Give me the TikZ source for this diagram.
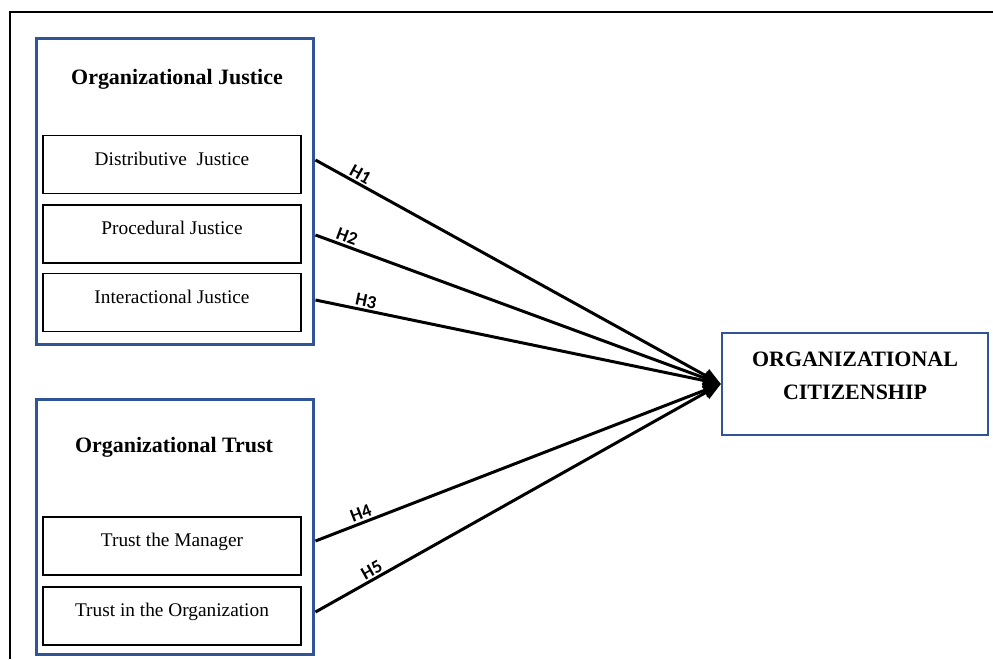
\documentclass[tikz,border=0pt]{standalone}
\usepackage{fontspec}
\setmainfont{Liberation Serif}
\newfontfamily\hfont{Carlito}
\usetikzlibrary{arrows.meta}
\definecolor{wordblue}{RGB}{47,85,151}

\begin{document}
\begin{tikzpicture}[x=0.02cm, y=-0.02cm,
    group/.style={draw=wordblue, line width=1.7pt, minimum width=5.56cm, inner sep=0pt},
    item/.style={draw, line width=0.8pt, minimum width=5.16cm, minimum height=1.16cm, inner sep=0pt,
      text height=0.3cm, text depth=0.28cm, font=\fontsize{11}{13}\selectfont},
    title/.style={font=\bfseries\fontsize{12.5}{14}\selectfont},
    hyp/.style={-{Triangle[length=10pt,width=8pt]}, line width=1.7pt},
    hlab/.style={sloped, above, inner sep=1pt, font=\hfont\bfseries\fontsize{10.5}{12}\selectfont}]
    \useasboundingbox (0,0) rectangle (993,659);
    % frame
    \draw[line width=1pt] (993,12) -- (10,12) -- (10,659);
    % groups
    \node[group, minimum height=6.14cm] (jbox) at (175,191.5) {};
    \node[group, minimum height=5.12cm] (tbox) at (175,527) {};
    \node[title] (jtitle) at (177,79) {Organizational Justice};
    \node[title] (ttitle) at (174,447) {Organizational Trust};
    % items
    \node[item] (dj) at (172,164.5) {Distributive\ \ Justice};
    \node[item] (pj) at (172,234) {Procedural Justice};
    \node[item] (ij) at (172,302.5) {Interactional Justice};
    \node[item] (tm) at (172,546) {Trust the Manager};
    \node[item] (to) at (172,616) {Trust in the Organization};
    % outcome
    \node[draw=wordblue, line width=1.3pt, minimum width=5.32cm, minimum height=2.04cm,
          align=center, text depth=0.34cm, font=\bfseries\fontsize{12.5}{18.5}\selectfont] (ocb) at (855,384)
          {ORGANIZATIONAL\\CITIZENSHIP};
    % hypotheses
    \draw[hyp] (jbox.east |- 0,160) -- node[hlab, pos=0.1] {H1} (ocb.west);
    \draw[hyp] (jbox.east |- 0,235) -- node[hlab, pos=0.07] {H2} (ocb.west);
    \draw[hyp] (jbox.east |- 0,300) -- node[hlab, pos=0.12] {H3} (ocb.west);
    \draw[hyp] (tbox.east |- 0,541) -- node[hlab, pos=0.12] {H4} (ocb.west);
    \draw[hyp] (tbox.east |- 0,612) -- node[hlab, pos=0.15] {H5} (ocb.west);
\end{tikzpicture}
\end{document}
